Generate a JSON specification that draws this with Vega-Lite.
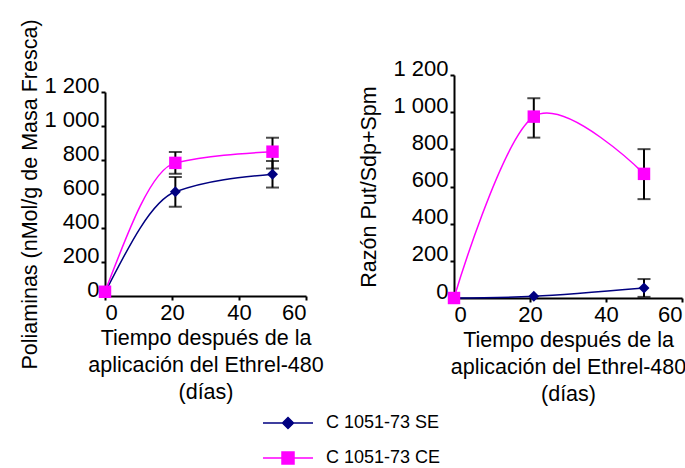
{
  "$schema": "https://vega.github.io/schema/vega-lite/v6.json",
  "padding": {"left": 19, "top": 18, "right": 0, "bottom": 0},
  "background": "white",
  "spacing": 34,
  "config": {
    "font": "Liberation Sans",
    "view": {"stroke": null},
    "axis": {
      "grid": false,
      "domainColor": "black",
      "domainWidth": 2,
      "tickColor": "black",
      "tickWidth": 2,
      "tickSize": 4,
      "labelColor": "black",
      "labelFontSize": 22,
      "labelFont": "Liberation Sans",
      "labelOverlap": false,
      "titleFont": "Liberation Sans",
      "titleFontSize": 21.5,
      "titleFontWeight": "normal",
      "titleColor": "black"
    },
    "axisY": {"labelBaseline": "alphabetic", "labelPadding": 2},
    "axisX": {"labelPadding": 2, "titleLineHeight": 27, "titlePadding": 4}
  },
  "datasets": {
    "pol": [
      {"serie": "C 1051-73 SE", "dia": 0, "valor": 20},
      {"serie": "C 1051-73 SE", "dia": 21, "valor": 613, "lo": 525, "hi": 700},
      {"serie": "C 1051-73 SE", "dia": 50, "valor": 716, "lo": 638, "hi": 794},
      {"serie": "C 1051-73 CE", "dia": 0, "valor": 25},
      {"serie": "C 1051-73 CE", "dia": 21, "valor": 783, "lo": 719, "hi": 847},
      {"serie": "C 1051-73 CE", "dia": 50, "valor": 849, "lo": 750, "hi": 931}
    ],
    "razon": [
      {"serie": "C 1051-73 SE", "dia": 0, "valor": 0},
      {"serie": "C 1051-73 SE", "dia": 21, "valor": 9},
      {"serie": "C 1051-73 SE", "dia": 50, "valor": 54, "lo": 6, "hi": 102},
      {"serie": "C 1051-73 CE", "dia": 0, "valor": 0},
      {"serie": "C 1051-73 CE", "dia": 21, "valor": 976, "lo": 863, "hi": 1075},
      {"serie": "C 1051-73 CE", "dia": 50, "valor": 668, "lo": 532, "hi": 801}
    ],
    "vacio": []
  },
  "hconcat": [
    {
      "vconcat": [
        {
          "width": 201,
          "height": 1,
          "data": {"name": "vacio"},
          "mark": "point"
        },
        {
          "width": 201,
          "height": 204,
          "data": {"name": "pol"},
          "layer": [
            {
              "mark": {"type": "line", "interpolate": "monotone", "strokeWidth": 1.5},
              "encoding": {
                "x": {"field": "dia", "type": "quantitative", "scale": {"domain": [0, 60]}, "axis": {"values": [0, 20, 40, 60], "labelOverlap": false, "title": ["Tiempo después de la", "aplicación del Ethrel-480", "(días)"]}},
                "y": {"field": "valor", "type": "quantitative", "scale": {"domain": [0, 1200]}, "axis": {"values": [0, 200, 400, 600, 800, 1000, 1200], "labelOverlap": false, "labelExpr": "replace(format(datum.value, ','), ',', ' ')", "title": "Poliaminas (nMol/g de Masa Fresca)", "titlePadding": 2}},
                "color": {
                  "field": "serie", "type": "nominal",
                  "scale": {"domain": ["C 1051-73 SE", "C 1051-73 CE"], "range": ["#000080", "#ff00ff"]},
                  "legend": {
                    "orient": "none", "direction": "vertical", "legendX": 157, "legendY": 322, "title": null, "padding": 0,
                    "symbolSize": 2500, "symbolStrokeWidth": 1.5,
                    "labelFontSize": 18, "labelFont": "Liberation Sans", "labelColor": "black",
                    "labelOffset": 12, "rowPadding": -21,
                    "encode": {
                      "symbols": {
                        "update": {
                          "shape": {"signal": "datum.value == 'C 1051-73 SE' ? 'M-1,0L1,0M0,-0.22L0.22,0L0,0.22L-0.22,0Z' : 'M-1,0L1,0M-0.24,-0.24L0.24,-0.24L0.24,0.24L-0.24,0.24Z'"},
                          "fill": {"signal": "datum.value == 'C 1051-73 SE' ? '#000080' : '#ff00ff'"},
                          "strokeWidth": {"value": 1.5}
                        }
                      }
                    }
                  }
                }
              }
            },
            {
              "transform": [{"filter": "isValid(datum.lo)"}],
              "mark": {"type": "errorbar", "ticks": {"size": 13}, "thickness": 2, "color": "black"},
              "encoding": {
                "x": {"field": "dia", "type": "quantitative", "axis": {"values": [0, 20, 40, 60], "labelOverlap": false, "title": ["Tiempo después de la", "aplicación del Ethrel-480", "(días)"]}},
                "y": {"field": "lo", "type": "quantitative", "axis": {"values": [0, 200, 400, 600, 800, 1000, 1200], "labelOverlap": false, "labelExpr": "replace(format(datum.value, ','), ',', ' ')", "title": "Poliaminas (nMol/g de Masa Fresca)", "titlePadding": 2}},
                "y2": {"field": "hi"}
              }
            },
            {
              "transform": [{"filter": "datum.serie == 'C 1051-73 SE'"}],
              "mark": {"type": "point", "shape": "diamond", "filled": true, "opacity": 1, "size": 120},
              "encoding": {
                "x": {"field": "dia", "type": "quantitative", "axis": {"values": [0, 20, 40, 60], "labelOverlap": false, "title": ["Tiempo después de la", "aplicación del Ethrel-480", "(días)"]}},
                "y": {"field": "valor", "type": "quantitative", "axis": {"values": [0, 200, 400, 600, 800, 1000, 1200], "labelOverlap": false, "labelExpr": "replace(format(datum.value, ','), ',', ' ')", "title": "Poliaminas (nMol/g de Masa Fresca)", "titlePadding": 2}},
                "color": {"field": "serie", "type": "nominal", "legend": null}
              }
            },
            {
              "transform": [{"filter": "datum.serie == 'C 1051-73 CE'"}],
              "mark": {"type": "point", "shape": "square", "filled": true, "opacity": 1, "size": 155},
              "encoding": {
                "x": {"field": "dia", "type": "quantitative", "axis": {"values": [0, 20, 40, 60], "labelOverlap": false, "title": ["Tiempo después de la", "aplicación del Ethrel-480", "(días)"]}},
                "y": {"field": "valor", "type": "quantitative", "axis": {"values": [0, 200, 400, 600, 800, 1000, 1200], "labelOverlap": false, "labelExpr": "replace(format(datum.value, ','), ',', ' ')", "title": "Poliaminas (nMol/g de Masa Fresca)", "titlePadding": 2}},
                "color": {"field": "serie", "type": "nominal", "legend": null}
              }
            }
          ]
        }
      ],
      "spacing": 16,
      "bounds": "flush"
    },
    {
      "width": 228,
      "height": 223,
      "data": {"name": "razon"},
      "layer": [
        {
          "mark": {"type": "line", "interpolate": "cardinal", "strokeWidth": 1.5},
          "encoding": {
            "x": {"field": "dia", "type": "quantitative", "scale": {"domain": [0, 60]}, "axis": {"values": [0, 20, 40, 60], "labelOverlap": false, "title": ["Tiempo después de la", "aplicación del Ethrel-480", "(días)"]}},
            "y": {"field": "valor", "type": "quantitative", "scale": {"domain": [0, 1200]}, "axis": {"values": [0, 200, 400, 600, 800, 1000, 1200], "labelOverlap": false, "labelExpr": "replace(format(datum.value, ','), ',', ' ')", "title": "Razón Put/Sdp+Spm", "titlePadding": 12}},
            "color": {"field": "serie", "type": "nominal"}
          }
        },
        {
          "transform": [{"filter": "isValid(datum.lo)"}],
          "mark": {"type": "errorbar", "ticks": {"size": 13}, "thickness": 2, "color": "black"},
          "encoding": {
            "x": {"field": "dia", "type": "quantitative", "axis": {"values": [0, 20, 40, 60], "labelOverlap": false, "title": ["Tiempo después de la", "aplicación del Ethrel-480", "(días)"]}},
            "y": {"field": "lo", "type": "quantitative", "axis": {"values": [0, 200, 400, 600, 800, 1000, 1200], "labelOverlap": false, "labelExpr": "replace(format(datum.value, ','), ',', ' ')", "title": "Razón Put/Sdp+Spm", "titlePadding": 12}},
            "y2": {"field": "hi"}
          }
        },
        {
          "transform": [{"filter": "datum.serie == 'C 1051-73 SE'"}],
          "mark": {"type": "point", "shape": "diamond", "filled": true, "opacity": 1, "size": 120},
          "encoding": {
            "x": {"field": "dia", "type": "quantitative", "axis": {"values": [0, 20, 40, 60], "labelOverlap": false, "title": ["Tiempo después de la", "aplicación del Ethrel-480", "(días)"]}},
            "y": {"field": "valor", "type": "quantitative", "axis": {"values": [0, 200, 400, 600, 800, 1000, 1200], "labelOverlap": false, "labelExpr": "replace(format(datum.value, ','), ',', ' ')", "title": "Razón Put/Sdp+Spm", "titlePadding": 12}},
            "color": {"field": "serie", "type": "nominal", "legend": null}
          }
        },
        {
          "transform": [{"filter": "datum.serie == 'C 1051-73 CE'"}],
          "mark": {"type": "point", "shape": "square", "filled": true, "opacity": 1, "size": 155},
          "encoding": {
            "x": {"field": "dia", "type": "quantitative", "axis": {"values": [0, 20, 40, 60], "labelOverlap": false, "title": ["Tiempo después de la", "aplicación del Ethrel-480", "(días)"]}},
            "y": {"field": "valor", "type": "quantitative", "axis": {"values": [0, 200, 400, 600, 800, 1000, 1200], "labelOverlap": false, "labelExpr": "replace(format(datum.value, ','), ',', ' ')", "title": "Razón Put/Sdp+Spm", "titlePadding": 12}},
            "color": {"field": "serie", "type": "nominal", "legend": null}
          }
        }
      ]
    }
  ]
}
